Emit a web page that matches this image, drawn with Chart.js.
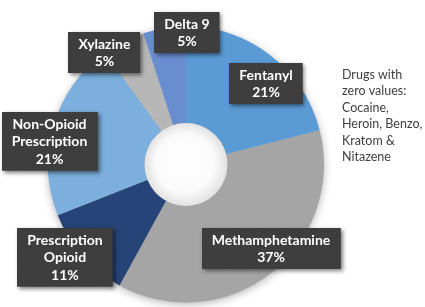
<!DOCTYPE html>
<html><head><meta charset="utf-8">
<script src="https://cdn.jsdelivr.net/npm/chart.js@4"></script>
<style>html,body{margin:0;padding:0;background:#fff}#wrap{position:relative;width:425px;height:307px}</style>
</head><body><div id="wrap"><canvas id="c"></canvas></div>
<script>
const categories = ['Fentanyl','Methamphetamine','Prescription Opioid','Non-Opioid Prescription','Xylazine','Delta 9'];
const labelLines = [['Fentanyl'],['Methamphetamine'],['Prescription','Opioid'],['Non-Opioid','Prescription'],['Xylazine'],['Delta 9']];
const values = [21,37,11,21,5,5];
const colors = ['#5B9BD5','#A5A5A5','#264478','#7CAFDD','#B7B7B7','#698ED0'];
const noteLines = ['Drugs with','zero values:','Cocaine,','Heroin, Benzo,','Kratom &','Nitazene'];
// label box centre offsets, as fractions of the outer radius from the chart centre
const labelOffsets = [[0.58,-0.587],[0.616,0.612],[-0.877,0.67],[-0.989,-0.17],[-0.591,-0.812],[0.007,-0.957]];

function makePattern(ctx){
  const p = document.createElement('canvas'); p.width=3; p.height=3;
  const c = p.getContext('2d');
  c.fillStyle='#3a3a3a'; c.fillRect(0,0,3,3);
  c.fillStyle='#454545'; c.fillRect(0,0,1,1); c.fillRect(2,1,1,1); c.fillRect(1,2,1,1);
  return ctx.createPattern(p,'repeat');
}

const decor = {
  id:'decor',
  beforeDatasetsDraw(chart){
    const a = chart.getDatasetMeta(0).data[0];
    const ctx = chart.ctx;
    ctx.save();
    ctx.shadowColor='rgba(0,0,0,0.35)'; ctx.shadowBlur=10; ctx.shadowOffsetY=2;
    ctx.fillStyle='#bbb';
    ctx.beginPath(); ctx.arc(a.x,a.y,a.outerRadius-1,0,Math.PI*2); ctx.fill();
    ctx.restore();
  },
  afterDatasetsDraw(chart){
    const a = chart.getDatasetMeta(0).data[0];
    const ctx = chart.ctx;
    ctx.save();
    const g = ctx.createRadialGradient(a.x-4,a.y-6,0,a.x,a.y,a.innerRadius);
    g.addColorStop(0,'#ffffff'); g.addColorStop(0.7,'#fbfbfb'); g.addColorStop(1,'#e2e2e2');
    ctx.fillStyle=g;
    ctx.beginPath(); ctx.arc(a.x,a.y,a.innerRadius,0,Math.PI*2); ctx.fill();
    ctx.restore();
  },
  afterDraw(chart){
    const ctx = chart.ctx;
    const meta = chart.getDatasetMeta(0);
    const total = values.reduce((s,v)=>s+v,0);
    const pat = makePattern(ctx);
    ctx.save();
    ctx.font='bold 14px Lato';
    const lh = 17.5;
    meta.data.forEach((arc,i)=>{
      const lines = labelLines[i].concat([Math.round(values[i]/total*100)+'%']);
      const cx = arc.x + labelOffsets[i][0]*arc.outerRadius;
      const cy = arc.y + labelOffsets[i][1]*arc.outerRadius;
      let w = 0; lines.forEach(l=>{w=Math.max(w,ctx.measureText(l).width);});
      w += 20;
      const h = lines.length*lh + 6;
      const x0 = Math.round(cx-w/2), y0 = Math.round(cy-h/2);
      ctx.save();
      ctx.shadowColor='rgba(0,0,0,0.5)'; ctx.shadowBlur=4; ctx.shadowOffsetX=2; ctx.shadowOffsetY=2;
      ctx.fillStyle='#3b3b3b';
      ctx.fillRect(x0,y0,w,h);
      ctx.restore();
      ctx.fillStyle=pat; ctx.fillRect(x0,y0,w,h);
      ctx.fillStyle='#ffffff'; ctx.textAlign='center'; ctx.textBaseline='middle';
      lines.forEach((l,k)=>{ ctx.fillText(l, cx, y0+3+lh*(k+0.5)+0.5); });
    });
    ctx.font='12.5px Lato';
    ctx.fillStyle='#404040'; ctx.textAlign='left'; ctx.textBaseline='middle';
    noteLines.forEach((l,k)=>{ ctx.fillText(l, 342, 75+k*16.4); });
    ctx.restore();
  }
};

new Chart(document.getElementById('c'),{
  type:'doughnut',
  data:{labels:categories,datasets:[{data:values,backgroundColor:colors,borderWidth:0}]},
  options:{
    responsive:true, maintainAspectRatio:false, animation:false,
    cutout:'30%',
    layout:{padding:{top:26.5,bottom:4.5,left:48,right:101}},
    plugins:{legend:{display:false},tooltip:{enabled:false}}
  },
  plugins:[decor]
});
</script></body></html>
